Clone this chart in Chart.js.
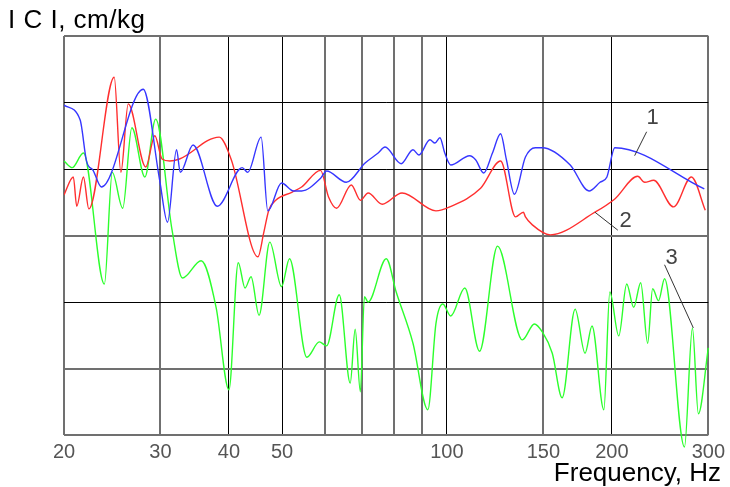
<!DOCTYPE html>
<html>
<head>
<meta charset="utf-8">
<title>|C| vs frequency</title>
<script src="https://cdn.jsdelivr.net/npm/chart.js@4.4.1/dist/chart.umd.min.js"></script>
<style>
    html, body { margin: 0; padding: 0; background: #fff; }
    #chart { display: block; }
</style>
</head>
<body>
<canvas id="chart" width="730" height="487"></canvas>
<script>
// --- AXES ---
const xGrid = [20, 30, 40, 50, 60, 70, 80, 90, 100, 150, 200, 300];
const xLabels = [20, 30, 40, 50, 100, 150, 200, 300];
const xDark = [40, 50, 100, 200];   // grid lines drawn black, the rest grey
const yDark = [2, 4, 5];            // y has no printed scale, values are in grid divisions

// --- CURVE 1 (blue) ---
const blueFreq = [20.0, 21.4, 22.0, 22.6, 23.4, 27.9, 29.9, 30.9, 32.1, 32.6, 34.4, 38.1, 42.3, 43.3, 45.8, 47.1, 49.9, 52.5, 54.3, 58.8, 60.3, 65.5, 70.9, 74.9, 77.1, 82.5, 86.7, 88.9, 93.1, 95.1, 97.1, 99.1, 101.6, 110.0, 112.8, 116.7, 121.1, 125.3, 128.4, 132.8, 139.1, 145.0, 149.3, 167.9, 181.7, 190.3, 195.9, 202.5, 295.0];
const blueVal = [4.96, 4.74, 4.11, 3.98, 3.73, 5.20, 3.83, 3.20, 4.29, 3.95, 4.36, 3.44, 4.02, 3.95, 4.48, 3.37, 3.79, 3.67, 3.67, 3.86, 3.97, 3.80, 4.09, 4.24, 4.33, 4.08, 4.29, 4.21, 4.44, 4.39, 4.47, 4.24, 4.06, 4.20, 4.14, 3.94, 4.24, 4.53, 4.14, 3.62, 4.18, 4.32, 4.32, 4.06, 3.67, 3.80, 3.88, 4.32, 3.70];

// --- CURVE 2 (red) ---
const redFreq = [20.0, 20.8, 21.1, 21.7, 22.2, 24.7, 25.4, 26.2, 28.2, 29.3, 30.2, 31.2, 32.5, 38.4, 40.4, 45.2, 46.3, 47.3, 48.7, 52.1, 54.3, 58.8, 60.8, 62.9, 66.9, 69.5, 71.8, 76.2, 82.8, 95.5, 101.2, 115.2, 125.3, 133.4, 137.9, 139.1, 143.2, 154.4, 186.3, 202.5, 223.0, 229.6, 238.4, 259.2, 279.4, 296.2];
const redVal = [3.61, 3.88, 3.44, 3.88, 3.40, 5.38, 3.95, 4.98, 4.03, 4.50, 4.15, 4.12, 4.15, 4.48, 4.14, 2.68, 3.04, 3.38, 3.53, 3.65, 3.73, 3.98, 3.58, 3.41, 3.76, 3.53, 3.64, 3.47, 3.64, 3.37, 3.43, 3.71, 4.12, 3.28, 3.35, 3.28, 3.16, 3.01, 3.35, 3.55, 3.89, 3.80, 3.83, 3.43, 3.88, 3.38];

// --- CURVE 3 (green) ---
const greenFreq = [20.0, 20.7, 21.7, 23.7, 24.5, 25.6, 26.6, 28.1, 29.4, 31.5, 32.9, 35.6, 37.9, 40.0, 41.6, 42.8, 43.9, 45.4, 47.5, 49.9, 51.6, 55.5, 58.5, 60.3, 63.6, 66.6, 68.0, 69.5, 70.7, 71.8, 77.5, 80.8, 86.7, 92.3, 95.5, 98.3, 101.6, 107.8, 114.7, 123.7, 137.3, 144.4, 149.3, 155.7, 162.3, 171.4, 178.7, 184.0, 193.4, 198.3, 205.9, 212.9, 219.2, 225.8, 232.5, 237.4, 243.4, 249.6, 271.4, 280.6, 287.7, 300];
const greenVal = [4.12, 4.02, 4.24, 2.27, 3.95, 3.41, 4.62, 3.88, 4.75, 3.08, 2.36, 2.62, 1.92, 0.68, 2.59, 2.21, 2.38, 1.80, 2.90, 2.23, 2.65, 1.17, 1.40, 1.34, 2.11, 0.78, 1.59, 0.65, 2.08, 2.00, 2.65, 2.15, 1.38, 0.38, 1.68, 1.97, 1.79, 2.21, 1.26, 2.84, 1.43, 1.67, 1.55, 1.23, 0.56, 1.89, 1.23, 1.64, 0.38, 2.15, 1.49, 2.27, 1.92, 2.29, 1.38, 2.20, 2.02, 2.35, -0.18, 1.61, 0.32, 1.31];

// --- CURVE NUMBERS + LEADER LINES (in data units) ---
const calloutText = ['1', '2', '3'];
const calloutTextFreq = [237.4, 212.0, 257.0];
const calloutTextVal = [4.77, 3.22, 2.66];
const leaderFromFreq = [231.5, 205.1, 249.6];
const leaderFromVal = [4.56, 3.08, 2.56];
const leaderToFreq = [220.1, 186.3, 281.7];
const leaderToVal = [4.20, 3.35, 1.61];

const toPoints = (fs, vs) => fs.map((f, i) => ({ x: f, y: vs[i] }));

const FONT = "'Liberation Sans', Arial, sans-serif";
Chart.defaults.font.family = FONT;

// draws axis captions and the numbered callouts
const extrasPlugin = {
    id: 'extras',
    afterDatasetsDraw(chart) {
        const { ctx, scales: { x, y } } = chart;
        ctx.save();
        ctx.strokeStyle = '#333';
        ctx.lineWidth = 1;
        ctx.fillStyle = '#444';
        ctx.font = '22px ' + FONT;
        ctx.textAlign = 'center';
        ctx.textBaseline = 'middle';
        calloutText.forEach((t, i) => {
            ctx.beginPath();
            ctx.moveTo(x.getPixelForValue(leaderFromFreq[i]), y.getPixelForValue(leaderFromVal[i]));
            ctx.lineTo(x.getPixelForValue(leaderToFreq[i]), y.getPixelForValue(leaderToVal[i]));
            ctx.stroke();
            ctx.fillText(t, x.getPixelForValue(calloutTextFreq[i]), y.getPixelForValue(calloutTextVal[i]));
        });

        ctx.fillStyle = '#000';
        ctx.font = '26px ' + FONT;
        ctx.textBaseline = 'alphabetic';
        ctx.textAlign = 'left';
        ctx.letterSpacing = '0.5px';
        ctx.fillText('I C I, cm/kg', 8, 28);
        ctx.letterSpacing = '0px';
        ctx.textAlign = 'right';
        ctx.fillText('Frequency, Hz', 721, 481);
        ctx.restore();
    }
};

const lineSet = (label, pts, color, extra) => Object.assign({
    label,
    data: pts,
    borderColor: color,
    borderWidth: 1.4,
    pointRadius: 0,
    fill: false,
    cubicInterpolationMode: 'monotone'
}, extra || {});

const ctx = document.getElementById('chart').getContext('2d');
new Chart(ctx, {
    type: 'line',
    data: {
        datasets: [
            lineSet('1', toPoints(blueFreq, blueVal), '#3636ff'),
            lineSet('2', toPoints(redFreq, redVal), '#ff2f2f'),
            lineSet('3', toPoints(greenFreq, greenVal), '#2cff2c', { clip: false })
        ]
    },
    options: {
        responsive: false,
        animation: false,
        devicePixelRatio: 1,
        layout: { padding: { top: 36, right: 18, bottom: 0, left: 0 } },
        plugins: { legend: { display: false }, tooltip: { enabled: false } },
        scales: {
            x: {
                type: 'logarithmic',
                min: 20,
                max: 300,
                afterBuildTicks: (s) => { s.ticks = xGrid.map(v => ({ value: v })); },
                afterFit: (s) => { s.height = 52; },
                border: { display: false },
                grid: {
                    drawTicks: false,
                    color: (c) => xDark.includes(c.tick && c.tick.value) ? '#000' : '#707070',
                    lineWidth: (c) => xDark.includes(c.tick && c.tick.value) ? 1 : 2
                },
                ticks: {
                    autoSkip: false,
                    maxRotation: 0,
                    padding: 5,
                    color: '#555',
                    font: { size: 20 },
                    callback: (v) => xLabels.includes(v) ? String(v) : ''
                }
            },
            y: {
                min: 0,
                max: 6,
                afterFit: (s) => { s.width = 64; },
                border: { display: false },
                grid: {
                    drawTicks: false,
                    color: (c) => yDark.includes(c.tick && c.tick.value) ? '#000' : '#707070',
                    lineWidth: (c) => yDark.includes(c.tick && c.tick.value) ? 1 : 2
                },
                ticks: { display: false, stepSize: 1 }
            }
        }
    },
    plugins: [extrasPlugin]
});
</script>
</body>
</html>
